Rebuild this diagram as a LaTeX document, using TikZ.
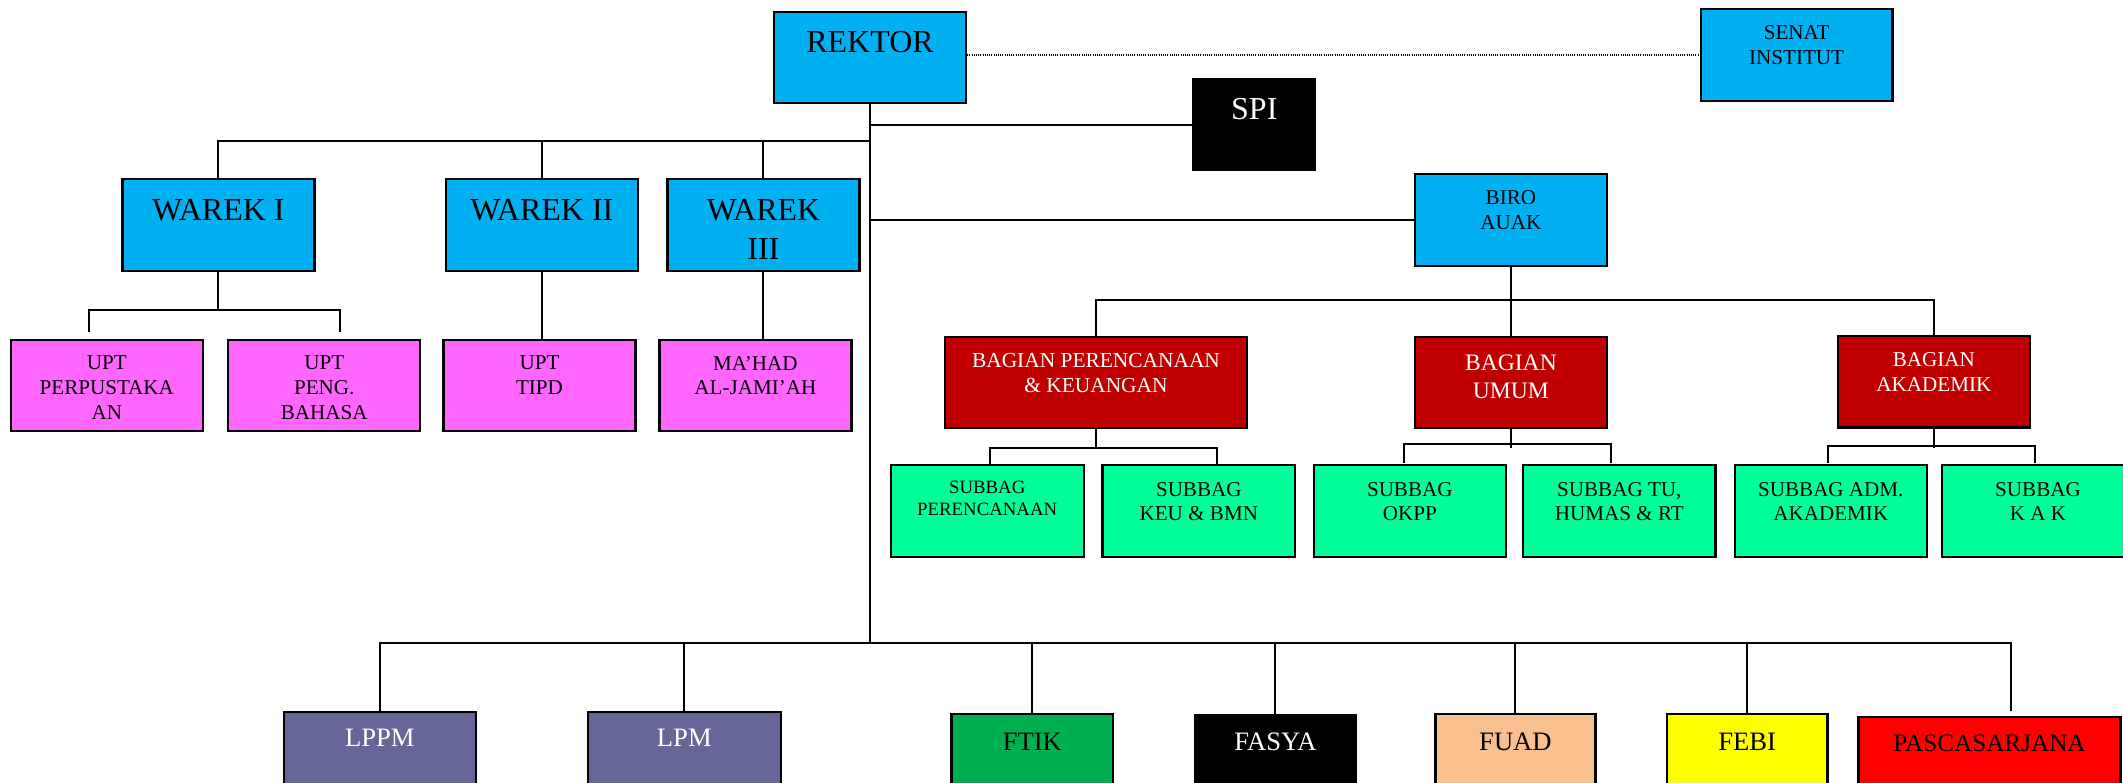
\documentclass[tikz,border=0pt]{standalone}
\usepackage{fontspec}
\setmainfont{Liberation Serif}
\definecolor{cyanb}{HTML}{00B0F0}
\definecolor{magb}{HTML}{FF66FF}
\definecolor{redd}{HTML}{C00000}
\definecolor{greenb}{HTML}{00FF99}
\definecolor{purp}{HTML}{666699}
\definecolor{greend}{HTML}{00B050}
\definecolor{peach}{HTML}{F9C08F}
\definecolor{yell}{HTML}{FFFF00}
\definecolor{redb}{HTML}{FF0000}
\tikzset{
  box/.style={draw=black, line width=1.1pt, inner sep=0pt, outer sep=0pt},
  conn/.style={draw=black, line width=1pt},
  dotline/.style={draw=black, line width=0.8pt, dash pattern=on 0.5pt off 0.6pt},
  txt/.style={inner sep=0pt, outer sep=0pt, align=center, anchor=north},
  tBig/.style={txt, font=\fontsize{16}{19.5}\selectfont},
  tSmall/.style={txt, font=\fontsize{10.55}{12.3}\selectfont},
  tBagA/.style={txt, text=white, font=\fontsize{10.7}{12.6}\selectfont},
  tBagB/.style={txt, text=white, font=\fontsize{11.8}{13.7}\selectfont},
  tSubA/.style={txt, font=\fontsize{9.4}{11.2}\selectfont},
  tSub/.style={txt, font=\fontsize{10.55}{12.35}\selectfont},
  tBot/.style={txt, font=\fontsize{13.3}{16}\selectfont},
  wbox/.style={box, minimum width=96pt, minimum height=45.7pt},
}
\begin{document}
\begin{tikzpicture}[x=0.5pt,y=-0.5pt]
\useasboundingbox (0,0) rectangle (2123,782);
\clip (0,0) rectangle (2123,782);

% ---------- top level ----------
\node[box, fill=cyanb, minimum width=96.3pt, minimum height=45.8pt] (rektor) at (870,57.5) {};
\node[tBig] (rektor-t) at (870,31.7) {REKTOR};
\node[box, fill=cyanb, minimum width=95.85pt, minimum height=45.7pt] (senat) at (1796.6,55) {};
\node[tSmall] (senat-t) at (1796.6,26) {SENAT\\INSTITUT};
\node[box, fill=black, minimum width=60.9pt, minimum height=45.8pt] (spi) at (1254.3,124.5) {};
\node[tBig, text=white] (spi-t) at (1254.3,98.3) {SPI};

% ---------- wakil rektor ----------
\node[wbox, fill=cyanb] (warek1) at (218.4,225) {};
\node[tBig] (warek1-t) at (218.4,199) {WAREK I};
\node[wbox, fill=cyanb] (warek2) at (541.8,225) {};
\node[tBig] (warek2-t) at (541.8,199) {WAREK II};
\node[wbox, fill=cyanb] (warek3) at (763.4,225) {};
\node[tBig] (warek3-t) at (763.4,199) {WAREK\\III};

% ---------- UPT ----------
\node[box, fill=magb, minimum width=96pt, minimum height=45.5pt] (upt1) at (106.8,385.5) {};
\node[tSmall] (upt1-t) at (106.8,356) {UPT\\PERPUSTAKA\\AN};
\node[box, fill=magb, minimum width=96pt, minimum height=45.5pt] (upt2) at (324.3,385.5) {};
\node[tSmall] (upt2-t) at (324.3,356) {UPT\\PENG.\\BAHASA};
\node[box, fill=magb, minimum width=96pt, minimum height=45.5pt] (upt3) at (539.5,385.5) {};
\node[tSmall] (upt3-t) at (539.5,356) {UPT\\TIPD};
\node[box, fill=magb, minimum width=96pt, minimum height=45.5pt] (mahad) at (755.4,385.5) {};
\node[tSmall] (mahad-t) at (755.4,356) {MA’HAD\\AL-JAMI’AH};

% ---------- biro ----------
\node[box, fill=cyanb, minimum width=95.85pt, minimum height=45.85pt] (biro) at (1510.9,220.2) {};
\node[tSmall] (biro-t) at (1510.9,191) {BIRO\\AUAK};

\node[box, fill=redd, minimum width=151pt, minimum height=45.8pt] (bag1) at (1096,382.5) {};
\node[tBagA] (bag1-t) at (1096,353.3) {BAGIAN PERENCANAAN\\\& KEUANGAN};
\node[box, fill=redd, minimum width=95.85pt, minimum height=45.8pt] (bag2) at (1510.9,382.5) {};
\node[tBagB] (bag2-t) at (1510.9,355) {BAGIAN\\UMUM};
\node[box, fill=redd, minimum width=95.85pt, minimum height=45.7pt] (bag3) at (1933.9,381.7) {};
\node[tBagA, font=\fontsize{10.55}{12.85}\selectfont] (bag3-t) at (1933.9,352.3) {BAGIAN\\AKADEMIK};

% ---------- subbag ----------
\node[box, fill=greenb, minimum width=96.6pt, minimum height=45.85pt] (sb1) at (987.2,510.9) {};
\node[tSubA] (sb1-t) at (987.2,481) {SUBBAG\\PERENCANAAN};
\node[box, fill=greenb, minimum width=96.3pt, minimum height=45.85pt] (sb2) at (1198.8,510.9) {};
\node[tSub] (sb2-t) at (1198.8,482.3) {SUBBAG\\KEU \& BMN};
\node[box, fill=greenb, minimum width=96.2pt, minimum height=45.85pt] (sb3) at (1409.8,510.9) {};
\node[tSub] (sb3-t) at (1409.8,482.3) {SUBBAG\\OKPP};
\node[box, fill=greenb, minimum width=96.2pt, minimum height=45.85pt] (sb4) at (1619.3,510.9) {};
\node[tSub] (sb4-t) at (1619.3,482.3) {SUBBAG TU,\\HUMAS \& RT};
\node[box, fill=greenb, minimum width=95.8pt, minimum height=45.85pt] (sb5) at (1830.8,510.9) {};
\node[tSub] (sb5-t) at (1830.8,482.3) {SUBBAG ADM.\\AKADEMIK};
\node[box, fill=greenb, minimum width=96pt, minimum height=45.85pt] (sb6) at (2038,510.9) {};
\node[tSub] (sb6-t) at (2038,482.3) {SUBBAG\\K A K};

% ---------- bottom row ----------
\node[box, fill=purp, minimum width=96pt, minimum height=45.75pt] (lppm) at (379.8,757.5) {};
\node[tBot, text=white] (lppm-t) at (379.8,729.3) {LPPM};
\node[box, fill=purp, minimum width=96.3pt, minimum height=45.75pt] (lpm) at (684.3,757.5) {};
\node[tBot, text=white] (lpm-t) at (684.3,729.3) {LPM};
\node[box, fill=greend, minimum width=80.75pt, minimum height=45.75pt] (ftik) at (1032.3,759.8) {};
\node[tBot] (ftik-t) at (1032.3,732.7) {FTIK};
\node[box, fill=black, minimum width=80.4pt, minimum height=45.75pt] (fasya) at (1275.4,760.8) {};
\node[tBot, text=white] (fasya-t) at (1275.4,732.7) {FASYA};
\node[box, fill=peach, minimum width=80pt, minimum height=45.75pt] (fuad) at (1515.4,759.8) {};
\node[tBot] (fuad-t) at (1515.4,732.7) {FUAD};
\node[box, fill=yell, minimum width=80.35pt, minimum height=45.75pt] (febi) at (1747.2,759.8) {};
\node[tBot] (febi-t) at (1747.2,732.7) {FEBI};
\node[box, fill=redb, minimum width=131pt, minimum height=45.75pt] (pasca) at (1989.5,762.5) {};
\node[tBot, font=\fontsize{12.6}{15}\selectfont] (pasca-t) at (1989.5,735) {PASCASARJANA};

% ---------- connectors ----------
\coordinate (trunkend) at (870,643);
\coordinate (wbus) at (870,141);
\coordinate (u1bus) at (218.4,310);
\coordinate (u1L) at (88.6,332);
\coordinate (u1R) at (340,332);
\coordinate (bbus) at (1510.9,300);
\coordinate (s1bus) at (1096,448);
\coordinate (s1L) at (989.6,465);
\coordinate (s1R) at (1217,465);
\coordinate (s2top) at (1510.9,448);
\coordinate (s2bus) at (1510.9,444.3);
\coordinate (s2L) at (1403.7,463);
\coordinate (s2R) at (1610.7,463);
\coordinate (s3bus) at (1933.9,445.7);
\coordinate (s3end) at (1933.9,448);
\coordinate (s3L) at (1828.3,463);
\coordinate (s3R) at (2034.5,463);
\coordinate (pdrop) at (2011,710.7);

\draw[dotline] (senat.west) -- (senat.west -| rektor.east);
\draw[conn] (rektor.south) -- (trunkend);
\draw[conn] (spi.west) -- (spi.west -| rektor.south);
\draw[conn] (biro.west) -- (biro.west -| rektor.south);

\draw[conn] (warek1.north) |- (wbus);
\draw[conn] (warek2.north) -- (warek2.north |- wbus);
\draw[conn] (warek3.north) -- (warek3.north |- wbus);

\draw[conn] (warek1.south) -- (u1bus);
\draw[conn] (u1L) |- (u1bus) -| (u1R);
\draw[conn] (warek2.south) -- (warek2.south |- upt3.north);
\draw[conn] (warek3.south) -- (warek3.south |- mahad.north);

\draw[conn] (biro.south) -- (bag2.north);
\draw[conn] (bag1.north) |- (bbus) -| (bag3.north);

\draw[conn] (bag1.south) -- (s1bus);
\draw[conn] (s1L) |- (s1bus) -| (s1R);
\draw[conn] (bag2.south) -- (s2top);
\draw[conn] (s2L) |- (s2bus) -| (s2R);
\draw[conn] (bag3.south) -- (s3end);
\draw[conn] (s3L) |- (s3bus) -| (s3R);

\draw[conn] (lppm.north) |- (trunkend) -| (pdrop);
\draw[conn] (lpm.north) -- (lpm.north |- trunkend);
\draw[conn] (ftik.north) -- (ftik.north |- trunkend);
\draw[conn] (fasya.north) -- (fasya.north |- trunkend);
\draw[conn] (fuad.north) -- (fuad.north |- trunkend);
\draw[conn] (febi.north) -- (febi.north |- trunkend);
\end{tikzpicture}
\end{document}
